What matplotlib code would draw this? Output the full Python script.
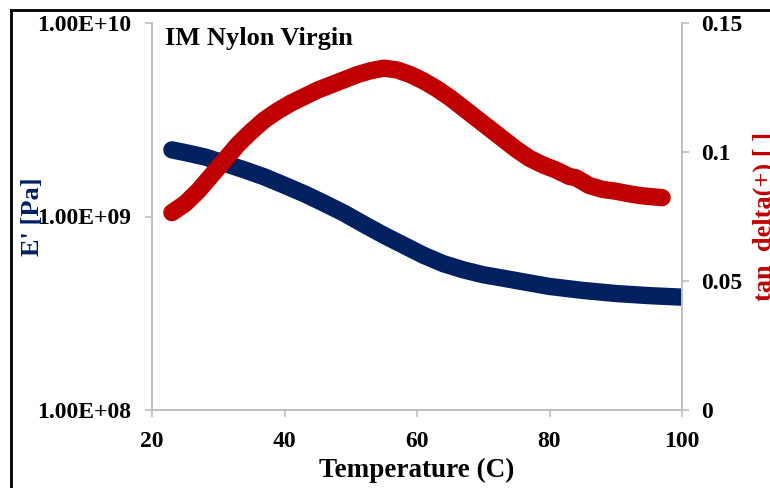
import matplotlib.pyplot as plt
from matplotlib.lines import Line2D
from matplotlib.ticker import FixedLocator, FuncFormatter, NullLocator

plt.rcParams.update({
    "font.family": ["Liberation Serif", "DejaVu Serif"],
    "font.weight": "bold",
})

# storage modulus E' [Pa] vs temperature
temp_e = [23, 25, 28, 31, 34, 37, 40, 43, 46, 49, 52, 55, 58, 61, 64, 67,
          70, 73, 76, 80, 85, 90, 95, 100]
e_mod = [2.21e9, 2.14e9, 2.03e9, 1.88e9, 1.74e9, 1.60e9, 1.45e9, 1.31e9,
         1.17e9, 1.04e9, 0.91e9, 0.80e9, 0.71e9, 0.63e9, 0.57e9, 0.53e9,
         0.50e9, 0.48e9, 0.46e9, 0.435e9, 0.415e9, 0.40e9, 0.39e9, 0.383e9]

# tan delta vs temperature
temp_t = [23, 25, 27, 29, 31, 33, 35, 37, 39, 41, 43, 45, 47, 49, 51, 53,
          55, 57, 59, 61, 63, 65, 67, 69, 71, 73, 75, 77, 79, 81, 83, 84,
          86, 88, 90, 92, 94, 97]
tan_d = [0.0765, 0.080, 0.085, 0.091, 0.097, 0.103, 0.108, 0.1125, 0.116,
         0.119, 0.1215, 0.124, 0.126, 0.128, 0.130, 0.1315, 0.1325, 0.1318,
         0.130, 0.1275, 0.1245, 0.121, 0.117, 0.113, 0.109, 0.105, 0.101,
         0.0975, 0.095, 0.093, 0.0905, 0.090, 0.087, 0.0855, 0.0848, 0.0838,
         0.0830, 0.0823]

navy = "#002060"
red = "#C00000"
grey = "#BFBFBF"

fig = plt.figure(figsize=(7.7, 4.88), dpi=100)
ax = fig.add_axes([152 / 770, 78 / 488, 530 / 770, 387 / 488])
ax2 = ax.twinx()

# dense round markers in the original -> thick line with round caps
ax.plot(temp_e, e_mod, color=navy, lw=12.5,
        solid_capstyle="round", solid_joinstyle="round")
ax2.plot(temp_t, tan_d, color=red, lw=12.5,
         solid_capstyle="round", solid_joinstyle="round")

ax.set_yscale("log")
ax.set_ylim(1e8, 1e10)
ax.set_xlim(20, 100)
ax2.set_ylim(0, 0.15)

ax.yaxis.set_major_locator(FixedLocator([1e8, 1e9, 1e10]))
ax.yaxis.set_minor_locator(NullLocator())
ax.yaxis.set_major_formatter(FuncFormatter(lambda v, p: "%.2E" % v))
ax.set_xticks([20, 40, 60, 80, 100])
ax2.set_yticks([0, 0.05, 0.1, 0.15])
ax2.set_yticklabels(["0", "0.05", "0.1", "0.15"])

for a in (ax, ax2):
    for s in a.spines.values():
        s.set_color(grey)
        s.set_linewidth(1.2)
    a.spines["top"].set_visible(False)
    a.tick_params(colors=grey, labelcolor="black", length=5, width=1.2,
                  direction="out", labelsize=17)
ax.tick_params(axis="y", pad=10)
ax.tick_params(axis="x", pad=10)
ax2.tick_params(axis="y", pad=9)

ax.set_xlabel("Temperature (C)", fontsize=19.5, fontweight="bold", labelpad=4)
ax.set_ylabel("E' [Pa]", fontsize=19, fontweight="bold", color=navy)
ax.yaxis.set_label_coords(-108 / 530, 0.5)
ax2.set_ylabel("tan  delta(+) [ ]", fontsize=19, fontweight="bold", color=red)
ax2.yaxis.set_label_coords(1 + 71 / 530, 0.5)

fig.text(165 / 770, 1 - 38 / 488, "IM Nylon Virgin", fontsize=19,
         fontweight="bold", va="center", ha="left")

# chart frame
fig.add_artist(Line2D([11 / 770, 11 / 770], [0, 1 - 10 / 488], color="black", lw=2))
fig.add_artist(Line2D([11 / 770, 1], [1 - 10 / 488, 1 - 10 / 488], color="black", lw=2))

fig.savefig("out.png", dpi=100)
